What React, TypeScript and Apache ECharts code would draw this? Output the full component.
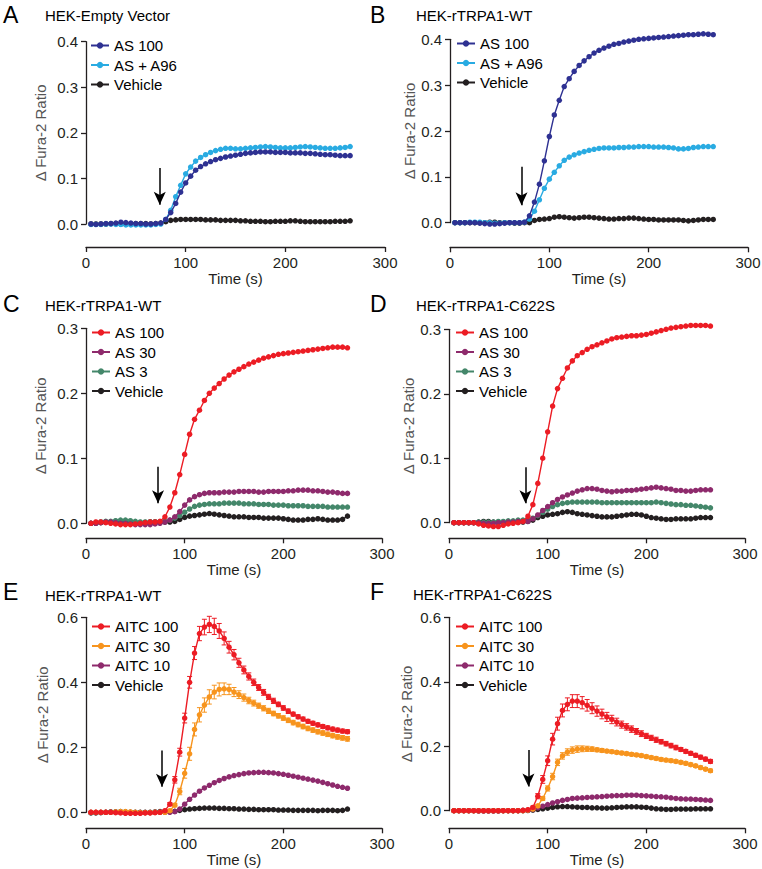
import React, { useEffect, useRef } from 'react';
import * as echarts from 'echarts';

// ---------- DATA ----------
const TIME = [5,10,15,20,25,30,35,40,45,50,55,60,65,70,75,80,85,90,95,100,105,110,115,120,125,130,135,140,145,150,155,160,165,170,175,180,185,190,195,200,205,210,215,220,225,230,235,240,245,250,255,260,265];
const X_TICKS = [0, 100, 200, 300];

// Panel A: HEK-Empty Vector
const A_AS100 = [0,-0.001,0,0.001,0.001,0.002,0.004,0.003,0.002,0.001,0.001,0,0,0.001,0.002,0.01,0.025,0.045,0.07,0.09,0.105,0.118,0.126,0.132,0.137,0.141,0.144,0.147,0.149,0.151,0.153,0.155,0.156,0.157,0.158,0.158,0.158,0.157,0.157,0.157,0.156,0.156,0.156,0.155,0.155,0.154,0.153,0.152,0.152,0.151,0.15,0.15,0.15];
const A_ASA96 = [-0.001,-0.001,-0.001,0,0,-0.001,-0.001,-0.002,-0.002,-0.002,-0.002,-0.002,-0.002,-0.001,0,0.01,0.03,0.06,0.085,0.11,0.125,0.138,0.146,0.152,0.157,0.161,0.164,0.166,0.166,0.165,0.165,0.166,0.167,0.168,0.169,0.17,0.169,0.168,0.167,0.167,0.167,0.168,0.169,0.17,0.169,0.168,0.167,0.166,0.166,0.166,0.167,0.168,0.17];
const A_VEH = [0,0,0,0,0.001,0.001,0,0,0,0.001,0.001,0.001,0,0.001,0.002,0.005,0.008,0.009,0.01,0.01,0.01,0.01,0.01,0.009,0.009,0.009,0.008,0.008,0.008,0.008,0.007,0.007,0.006,0.006,0.006,0.005,0.005,0.006,0.006,0.006,0.007,0.007,0.006,0.005,0.005,0.005,0.005,0.005,0.005,0.006,0.006,0.006,0.007];
const A_ARROW = [74, 0.123, 0.042];

// Panel B: HEK-rTRPA1-WT (AS)
const B_AS100 = [0,0,0,0,0,-0.001,-0.002,-0.003,-0.003,-0.002,-0.001,0,0,0,0.001,0.015,0.045,0.084,0.135,0.188,0.235,0.267,0.297,0.314,0.33,0.343,0.353,0.362,0.37,0.376,0.381,0.385,0.389,0.391,0.394,0.396,0.398,0.4,0.401,0.402,0.403,0.404,0.405,0.406,0.407,0.408,0.409,0.41,0.41,0.411,0.412,0.411,0.41];
const B_ASA96 = [0,0,0,0.001,0.001,0.001,0,0,-0.001,-0.001,0,0,0,0,0.001,0.008,0.025,0.05,0.075,0.095,0.11,0.124,0.136,0.143,0.148,0.152,0.155,0.158,0.16,0.162,0.163,0.163,0.163,0.164,0.164,0.165,0.165,0.166,0.166,0.166,0.165,0.165,0.165,0.164,0.163,0.161,0.161,0.162,0.164,0.165,0.166,0.166,0.166];
const B_VEH = [0,0,0,0,0,0,0,0.001,0.001,0,0,0,-0.001,-0.001,0,0,0.005,0.007,0.008,0.009,0.012,0.013,0.012,0.011,0.01,0.011,0.012,0.012,0.011,0.01,0.009,0.008,0.008,0.009,0.009,0.01,0.01,0.009,0.008,0.007,0.007,0.006,0.006,0.006,0.006,0.006,0.005,0.004,0.005,0.006,0.007,0.007,0.007];
const B_ARROW = [72, 0.122, 0.038];

// Panel C: HEK-rTRPA1-WT (AS doses)
const C_AS100 = [0,0.002,0.002,0.001,0,-0.001,-0.002,-0.002,-0.002,-0.001,0,0.001,0.002,0.002,0.003,0.01,0.025,0.047,0.075,0.106,0.137,0.16,0.174,0.189,0.2,0.208,0.215,0.222,0.228,0.233,0.237,0.241,0.245,0.248,0.251,0.254,0.256,0.258,0.26,0.261,0.262,0.263,0.264,0.265,0.266,0.267,0.268,0.269,0.27,0.271,0.271,0.271,0.27];
const C_AS30 = [0,0,0.001,0.002,0.002,0.001,0,0,-0.001,-0.002,-0.002,-0.002,-0.002,-0.001,0,0.002,0.005,0.01,0.018,0.028,0.036,0.041,0.044,0.046,0.047,0.047,0.047,0.048,0.048,0.048,0.049,0.049,0.049,0.049,0.048,0.048,0.049,0.049,0.049,0.049,0.05,0.05,0.051,0.051,0.051,0.05,0.05,0.049,0.048,0.048,0.047,0.046,0.046];
const C_AS3 = [0,0.001,0.002,0.003,0.003,0.004,0.005,0.005,0.004,0.003,0.002,0.002,0.002,0.002,0.002,0.003,0.005,0.008,0.012,0.017,0.022,0.026,0.028,0.029,0.03,0.03,0.03,0.031,0.031,0.031,0.031,0.03,0.03,0.03,0.029,0.029,0.029,0.028,0.028,0.028,0.027,0.027,0.027,0.027,0.026,0.026,0.026,0.026,0.025,0.025,0.025,0.025,0.025];
const C_VEH = [0,0,0.001,0.002,0.002,0.003,0.003,0.002,0.001,0.001,0.001,0.001,0.002,0.002,0.002,0.002,0.002,0.003,0.006,0.009,0.011,0.012,0.013,0.014,0.015,0.014,0.013,0.012,0.011,0.01,0.01,0.01,0.009,0.009,0.009,0.008,0.008,0.008,0.008,0.007,0.006,0.005,0.005,0.005,0.006,0.006,0.007,0.006,0.005,0.005,0.005,0.006,0.011];
const C_ARROW = [73, 0.087, 0.031];

// Panel D: HEK-rTRPA1-C622S (AS doses)
const D_AS100 = [0,0,0,0,0,-0.002,-0.004,-0.005,-0.006,-0.006,-0.004,-0.002,-0.001,0,0.002,0.01,0.028,0.061,0.1,0.141,0.181,0.208,0.224,0.24,0.251,0.259,0.264,0.269,0.273,0.276,0.279,0.282,0.285,0.287,0.288,0.289,0.29,0.29,0.291,0.292,0.294,0.296,0.298,0.3,0.302,0.303,0.304,0.305,0.306,0.306,0.306,0.306,0.305];
const D_AS30 = [0,0,0,0,0,0,-0.001,-0.001,-0.001,0,0,0.001,0.001,0.002,0.002,0.002,0.006,0.012,0.019,0.025,0.031,0.036,0.04,0.043,0.046,0.049,0.051,0.053,0.053,0.052,0.05,0.049,0.048,0.049,0.049,0.05,0.05,0.051,0.052,0.053,0.054,0.055,0.054,0.053,0.052,0.05,0.05,0.049,0.049,0.05,0.051,0.051,0.051];
const D_AS3 = [0,0,0,0,0,0.001,0.001,0.001,0.001,0.002,0.002,0.003,0.003,0.004,0.004,0.005,0.007,0.011,0.016,0.021,0.025,0.028,0.03,0.031,0.032,0.032,0.032,0.032,0.032,0.032,0.031,0.031,0.031,0.031,0.031,0.031,0.031,0.031,0.031,0.031,0.031,0.032,0.031,0.03,0.029,0.028,0.028,0.027,0.027,0.026,0.025,0.024,0.023];
const D_VEH = [0,0,0,0,0,0.001,0.002,0.002,0.001,0,0,0,0.001,0.001,0.001,0.002,0.004,0.008,0.01,0.012,0.013,0.014,0.016,0.017,0.016,0.014,0.013,0.012,0.011,0.01,0.009,0.009,0.009,0.01,0.011,0.012,0.013,0.013,0.012,0.01,0.008,0.007,0.006,0.005,0.005,0.006,0.006,0.006,0.006,0.007,0.008,0.008,0.008];
const D_ARROW = [77.5, 0.086, 0.03];

// Panel E: HEK-rTRPA1-WT (AITC)
const E_AITC100 = [0,0,0,0,0,-0.001,-0.002,-0.003,-0.003,-0.003,-0.003,-0.002,-0.002,-0.001,0,0.005,0.025,0.1,0.185,0.29,0.4,0.49,0.55,0.57,0.578,0.572,0.558,0.535,0.508,0.485,0.46,0.438,0.418,0.4,0.384,0.369,0.355,0.343,0.332,0.321,0.311,0.302,0.294,0.287,0.28,0.274,0.269,0.264,0.26,0.256,0.253,0.25,0.248];
const E_AITC100_ERR = [0.002,0.002,0.002,0.002,0.002,0.002,0.002,0.002,0.002,0.002,0.002,0.002,0.002,0.002,0.002,0.003,0.005,0.01,0.012,0.015,0.018,0.02,0.022,0.024,0.025,0.025,0.023,0.02,0.018,0.016,0.014,0.012,0.011,0.01,0.009,0.009,0.008,0.008,0.007,0.007,0.007,0.006,0.006,0.006,0.006,0.006,0.006,0.006,0.006,0.006,0.006,0.006,0.006];
const E_AITC30 = [0,0,0,0,0,0.001,0.002,0.002,0.001,0,-0.001,-0.001,-0.001,0,0,0,0.005,0.022,0.064,0.12,0.18,0.255,0.3,0.33,0.355,0.37,0.378,0.38,0.378,0.37,0.362,0.353,0.344,0.336,0.328,0.32,0.312,0.304,0.297,0.29,0.283,0.276,0.27,0.264,0.258,0.253,0.248,0.244,0.24,0.236,0.232,0.229,0.226];
const E_AITC30_ERR = [0.002,0.002,0.002,0.002,0.002,0.002,0.002,0.002,0.002,0.002,0.002,0.002,0.002,0.002,0.002,0.002,0.003,0.005,0.01,0.015,0.02,0.02,0.022,0.022,0.022,0.021,0.02,0.018,0.016,0.014,0.012,0.011,0.01,0.009,0.008,0.008,0.008,0.007,0.007,0.007,0.007,0.007,0.007,0.007,0.007,0.007,0.007,0.007,0.007,0.007,0.007,0.007,0.007];
const E_AITC10 = [0,0,0,0,0,0,0,0,0,-0.001,-0.001,-0.001,-0.001,0,0,0,0,0.002,0.01,0.025,0.04,0.053,0.065,0.075,0.083,0.091,0.098,0.104,0.109,0.113,0.116,0.119,0.121,0.122,0.123,0.123,0.122,0.121,0.119,0.117,0.114,0.111,0.108,0.105,0.102,0.099,0.096,0.092,0.088,0.084,0.08,0.077,0.074];
const E_VEH = [-0.002,-0.002,-0.001,0,0.001,0.001,0.002,0.001,0,0,0,0,0,0.001,0.002,0.002,0.002,0.003,0.006,0.008,0.01,0.011,0.012,0.013,0.013,0.013,0.012,0.012,0.011,0.011,0.01,0.01,0.009,0.009,0.008,0.008,0.008,0.008,0.007,0.007,0.007,0.006,0.006,0.006,0.006,0.006,0.005,0.006,0.006,0.006,0.005,0.006,0.01];
const E_ARROW = [77, 0.19, 0.079];

// Panel F: HEK-rTRPA1-C622S (AITC)
const F_AITC100 = [0,0,0,0,0,0,0,0,0,0,0,0,0,0,0.001,0.003,0.01,0.045,0.097,0.155,0.222,0.27,0.311,0.33,0.34,0.34,0.335,0.327,0.318,0.309,0.3,0.291,0.283,0.275,0.267,0.26,0.253,0.246,0.239,0.232,0.226,0.22,0.214,0.208,0.202,0.196,0.19,0.184,0.178,0.172,0.166,0.16,0.153];
const F_AITC100_ERR = [0.002,0.002,0.002,0.002,0.002,0.002,0.002,0.002,0.002,0.002,0.002,0.002,0.002,0.002,0.002,0.002,0.004,0.008,0.012,0.015,0.018,0.02,0.02,0.02,0.02,0.02,0.019,0.018,0.017,0.016,0.015,0.014,0.013,0.012,0.011,0.01,0.01,0.009,0.009,0.008,0.008,0.008,0.007,0.007,0.007,0.007,0.006,0.006,0.006,0.006,0.006,0.006,0.006];
const F_AITC30 = [0,0,0,0,0,0,0,0,0,0,0,0,0,0,0,0.002,0.005,0.015,0.038,0.069,0.106,0.15,0.17,0.182,0.188,0.191,0.192,0.192,0.191,0.189,0.187,0.185,0.183,0.181,0.179,0.177,0.175,0.173,0.171,0.168,0.165,0.162,0.159,0.157,0.155,0.153,0.15,0.147,0.143,0.139,0.134,0.129,0.124];
const F_AITC30_ERR = [0.002,0.002,0.002,0.002,0.002,0.002,0.002,0.002,0.002,0.002,0.002,0.002,0.002,0.002,0.002,0.001,0.002,0.004,0.006,0.008,0.01,0.01,0.01,0.01,0.01,0.01,0.009,0.008,0.007,0.006,0.006,0.005,0.005,0.005,0.005,0.005,0.005,0.005,0.005,0.005,0.005,0.005,0.005,0.005,0.005,0.005,0.005,0.005,0.005,0.005,0.005,0.005,0.005];
const F_AITC10 = [0,0,0,0,0,-0.001,-0.001,-0.001,-0.001,-0.001,0,0,0,0,0.001,0.001,0.004,0.009,0.014,0.019,0.024,0.028,0.032,0.035,0.038,0.039,0.04,0.041,0.042,0.043,0.044,0.045,0.046,0.047,0.047,0.048,0.048,0.048,0.047,0.046,0.045,0.044,0.043,0.042,0.04,0.038,0.037,0.036,0.036,0.035,0.034,0.033,0.032];
const F_VEH = [0,0,0,0,0,0,0,0,0,0,0,0,0,0,0,0.001,0.002,0.004,0.006,0.008,0.01,0.012,0.013,0.013,0.012,0.011,0.01,0.01,0.009,0.009,0.008,0.008,0.009,0.01,0.011,0.012,0.012,0.012,0.011,0.01,0.008,0.006,0.005,0.004,0.004,0.005,0.005,0.005,0.005,0.006,0.006,0.006,0.006];
const F_ARROW = [80.5, 0.188, 0.075];

// ---------- STYLE ----------
const FONT = '"Liberation Sans", Arial, Helvetica, sans-serif';
const C = {
  dark: '#2e3192',
  light: '#29abe2',
  black: '#231f20',
  red: '#ec1c24',
  purple: '#8e2a6c',
  green: '#44876a',
  orange: '#f7941d',
};

const PANELS = [
  { letter: 'A', title: 'HEK-Empty Vector', yMax: 0.4, yInt: 0.1, arrow: A_ARROW,
    series: [
      { name: 'AS 100', color: C.dark, data: A_AS100 },
      { name: 'AS + A96', color: C.light, data: A_ASA96 },
      { name: 'Vehicle', color: C.black, data: A_VEH },
    ] },
  { letter: 'B', title: 'HEK-rTRPA1-WT', yMax: 0.4, yInt: 0.1, arrow: B_ARROW,
    series: [
      { name: 'AS 100', color: C.dark, data: B_AS100 },
      { name: 'AS + A96', color: C.light, data: B_ASA96 },
      { name: 'Vehicle', color: C.black, data: B_VEH },
    ] },
  { letter: 'C', title: 'HEK-rTRPA1-WT', yMax: 0.3, yInt: 0.1, arrow: C_ARROW,
    series: [
      { name: 'AS 100', color: C.red, data: C_AS100 },
      { name: 'AS 30', color: C.purple, data: C_AS30 },
      { name: 'AS 3', color: C.green, data: C_AS3 },
      { name: 'Vehicle', color: C.black, data: C_VEH },
    ] },
  { letter: 'D', title: 'HEK-rTRPA1-C622S', yMax: 0.3, yInt: 0.1, arrow: D_ARROW,
    series: [
      { name: 'AS 100', color: C.red, data: D_AS100 },
      { name: 'AS 30', color: C.purple, data: D_AS30 },
      { name: 'AS 3', color: C.green, data: D_AS3 },
      { name: 'Vehicle', color: C.black, data: D_VEH },
    ] },
  { letter: 'E', title: 'HEK-rTRPA1-WT', yMax: 0.6, yInt: 0.2, arrow: E_ARROW,
    series: [
      { name: 'AITC 100', color: C.red, data: E_AITC100, err: E_AITC100_ERR },
      { name: 'AITC 30', color: C.orange, data: E_AITC30, err: E_AITC30_ERR },
      { name: 'AITC 10', color: C.purple, data: E_AITC10 },
      { name: 'Vehicle', color: C.black, data: E_VEH },
    ] },
  { letter: 'F', title: 'HEK-rTRPA1-C622S', yMax: 0.6, yInt: 0.2, arrow: F_ARROW,
    series: [
      { name: 'AITC 100', color: C.red, data: F_AITC100, err: F_AITC100_ERR },
      { name: 'AITC 30', color: C.orange, data: F_AITC30, err: F_AITC30_ERR },
      { name: 'AITC 10', color: C.purple, data: F_AITC10 },
      { name: 'Vehicle', color: C.black, data: F_VEH },
    ] },
];

const LAYOUT = [
  { left: 86, top: 41.7, width: 299, height: 182.3, xOffset: 23, nameGap: 38, legendX: 90, legendY: 38, titleX: 45, titleY: 8, letterX: 3, letterY: 3 },
  { left: 450, top: 39.3, width: 298, height: 183.4, xOffset: 24.6, nameGap: 32, legendX: 456, legendY: 36, titleX: 416, titleY: 8, letterX: 370, letterY: 3 },
  { left: 86, top: 328.3, width: 296, height: 195, xOffset: 15, nameGap: 38, legendX: 91, legendY: 325, titleX: 45, titleY: 298, letterX: 3, letterY: 292 },
  { left: 449, top: 329.3, width: 296, height: 193.4, xOffset: 15.6, nameGap: 32, legendX: 455, legendY: 325, titleX: 416, titleY: 298, letterX: 370, letterY: 292 },
  { left: 86, top: 617.3, width: 296, height: 195, xOffset: 16, nameGap: 36, legendX: 91, legendY: 619, titleX: 45, titleY: 588, letterX: 3, letterY: 580 },
  { left: 449, top: 617.3, width: 296, height: 193.4, xOffset: 17.6, nameGap: 35, legendX: 455, legendY: 619, titleX: 413, titleY: 587, letterX: 370, letterY: 580 },
];

function buildOption() {
  const grid: any[] = [];
  const xAxis: any[] = [];
  const yAxis: any[] = [];
  const legend: any[] = [];
  const title: any[] = [];
  const series: any[] = [];

  PANELS.forEach((p, i) => {
    const L = LAYOUT[i];
    grid.push({ left: L.left, top: L.top, width: L.width, height: L.height, containLabel: false, outerBoundsMode: 'none' });
    xAxis.push({
      gridIndex: i, type: 'value', min: X_TICKS[0], max: X_TICKS[X_TICKS.length - 1], interval: 100,
      offset: L.xOffset,
      name: 'Time (s)', nameLocation: 'middle', nameGap: 22,
      nameTextStyle: { fontFamily: FONT, fontSize: 15, color: '#231f20' },
      axisLine: { show: true, onZero: false, lineStyle: { color: '#231f20', width: 1.3 } },
      axisTick: { show: true, length: 5, lineStyle: { color: '#231f20', width: 1.3 } },
      axisLabel: { fontFamily: FONT, fontSize: 15, color: '#231f20', margin: 8 },
      splitLine: { show: false },
    });
    yAxis.push({
      gridIndex: i, type: 'value', min: 0, max: p.yMax, interval: p.yInt,
      name: '\u0394 Fura-2 Ratio', nameLocation: 'middle', nameGap: L.nameGap, nameRotate: 90,
      nameTextStyle: { fontFamily: FONT, fontSize: 15, color: '#555555' },
      axisLine: { show: true, onZero: false, lineStyle: { color: '#231f20', width: 1.3 } },
      axisTick: { show: true, length: 5, lineStyle: { color: '#231f20', width: 1.3 } },
      axisLabel: { fontFamily: FONT, fontSize: 15, color: '#231f20', margin: 8, formatter: (v: number) => v.toFixed(1) },
      splitLine: { show: false },
    });
    title.push({
      text: p.letter, left: L.letterX, top: L.letterY, padding: 0,
      textStyle: { fontFamily: FONT, fontSize: 23, fontWeight: 'normal', color: '#000' },
    });
    title.push({
      text: p.title, left: L.titleX, top: L.titleY, padding: 0,
      textStyle: { fontFamily: FONT, fontSize: 15, fontWeight: 'normal', color: '#000' },
    });
    const n = p.series.length;
    legend.push({
      data: p.series.map((s) => p.letter + '|' + s.name),
      formatter: (name: string) => name.split('|')[1],
      orient: 'vertical', left: L.legendX, top: L.legendY,
      itemWidth: 18, itemHeight: 8, itemGap: 4.5, padding: 0,
      textStyle: { fontFamily: FONT, fontSize: 15, color: '#000', lineHeight: 14 },
      selectedMode: false,
    });
    p.series.forEach((s: any, k: number) => {
      const z = 3 + (n - k) * 2;
      series.push({
        name: p.letter + '|' + s.name,
        type: 'line', xAxisIndex: i, yAxisIndex: i,
        data: TIME.map((t, j) => [t, s.data[j]]),
        symbol: 'circle', symbolSize: 5.5, showSymbol: true,
        clip: false, z,
        itemStyle: { color: s.color },
        lineStyle: { color: s.color, width: 1.4 },
        emphasis: { disabled: true },
        markLine: k === n - 1 ? {
          silent: true, animation: false,
          symbol: ['none', 'arrow'], symbolSize: 12,
          label: { show: false },
          lineStyle: { color: '#000', width: 1.5, type: 'solid' },
          data: [[
            { coord: [p.arrow[0], p.arrow[1]], symbol: 'none' },
            { coord: [p.arrow[0], p.arrow[2]], symbol: 'arrow', symbolSize: [9, 13] },
          ]],
        } : undefined,
      });
      if (s.err) {
        const color = s.color;
        series.push({
          name: p.letter + '|' + s.name + ' err',
          type: 'custom', xAxisIndex: i, yAxisIndex: i, z: z - 1, clip: false, silent: true,
          data: TIME.map((t, j) => [t, s.data[j], s.err[j]]),
          renderItem: (params: any, api: any) => {
            const x = api.value(0), y = api.value(1), e = api.value(2);
            const top = api.coord([x, y + e]);
            const bot = api.coord([x, y - e]);
            const st = { stroke: color, lineWidth: 1 };
            return {
              type: 'group',
              children: [
                { type: 'line', shape: { x1: top[0], y1: top[1], x2: bot[0], y2: bot[1] }, style: st },
                { type: 'line', shape: { x1: top[0] - 2.5, y1: top[1], x2: top[0] + 2.5, y2: top[1] }, style: st },
                { type: 'line', shape: { x1: bot[0] - 2.5, y1: bot[1], x2: bot[0] + 2.5, y2: bot[1] }, style: st },
              ],
            };
          },
        });
      }
    });
  });

  return {
    animation: false,
    backgroundColor: '#ffffff',
    textStyle: { fontFamily: FONT },
    title, grid, xAxis, yAxis, legend, series,
  };
}

export default function App() {
  const ref = useRef<HTMLDivElement>(null);
  useEffect(() => {
    document.body.style.margin = '0';
    const chart = echarts.init(ref.current as HTMLDivElement, undefined, { renderer: 'svg' });
    chart.setOption(buildOption() as any);
    return () => chart.dispose();
  }, []);
  return <div ref={ref} style={{ width: 762, height: 869 }} />;
}
